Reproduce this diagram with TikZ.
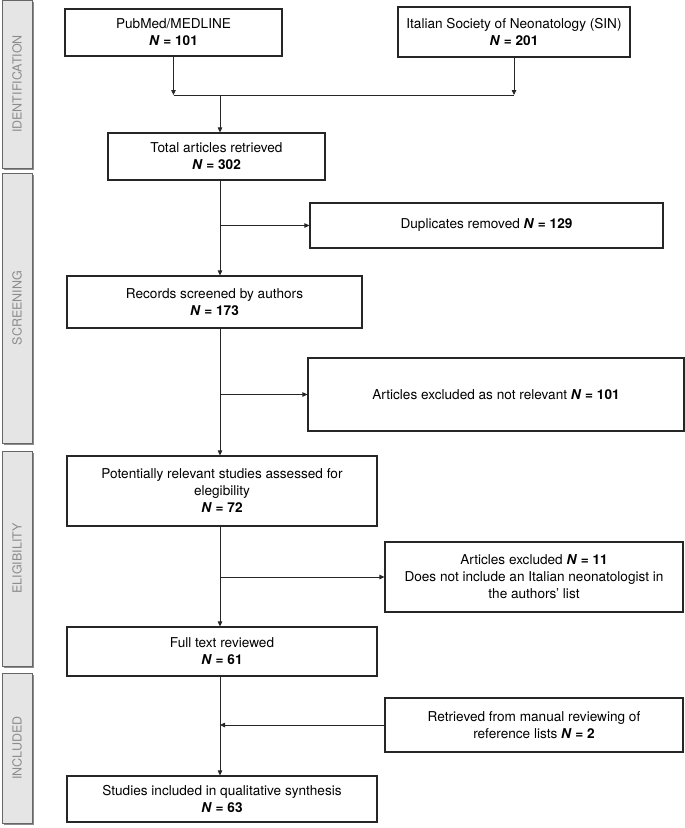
\documentclass[tikz,border=0pt]{standalone}
\usepackage{fontspec}
\setmainfont{TeX Gyre Heros}
\usepackage{tikz}
\usetikzlibrary{arrows.meta}
\usetikzlibrary{shadows}

\begin{document}
\begin{tikzpicture}[x=1pt,y=-1pt,
  flow box/.style={draw=black!85,line width=1.1pt,fill=white,align=center,inner sep=0pt,
    font=\fontsize{13.6}{17}\selectfont},
  phase bar/.style={draw=black!60,line width=1pt,fill=black!10,inner sep=0pt,minimum width=30pt,
    drop shadow={shadow xshift=1.6pt,shadow yshift=-1.6pt,fill=black!45,opacity=1},
    text=black!45,font=\fontsize{12.5}{14}\selectfont},
  flow arrow/.style={line width=0.8pt,black!85,-{Triangle[length=5pt,width=4.5pt]}},
  flow line/.style={line width=0.8pt,black!85}]
\newcommand{\Nis}[1]{\textbf{\textit{N} = #1}}
\useasboundingbox (0,0) rectangle (685,828);
% phases on the left
\node[phase bar,minimum height=168pt] (ident) at (17,84) {\rotatebox{90}{IDENTIFICATION}};
\node[phase bar,minimum height=270pt] (screen) at (17,308) {\rotatebox{90}{SCREENING}};
\node[phase bar,minimum height=215pt] (elig) at (17,558.5) {\rotatebox{90}{ELIGIBILITY}};
\node[phase bar,minimum height=150pt] (incl) at (17,748) {\rotatebox{90}{INCLUDED}};
% main column
\node[flow box,minimum width=217pt,minimum height=47pt] (pubmed) at (173.5,32.5) {PubMed/MEDLINE\\\Nis{101}};
\node[flow box,minimum width=232pt,minimum height=50pt] (sin) at (514,32) {Italian Society of Neonatology (SIN)\\\Nis{201}};
\node[flow box,minimum width=217pt,minimum height=47pt] (total) at (216.5,156.5) {Total articles retrieved\\\Nis{302}};
\node[flow box,minimum width=295pt,minimum height=52pt] (records) at (214.5,302) {Records screened by authors\\\Nis{173}};
\node[flow box,minimum width=310pt,minimum height=70pt] (potential) at (222,491) {Potentially relevant studies assessed for\\elegibility\\\Nis{72}};
\node[flow box,minimum width=310pt,minimum height=49pt] (fulltext) at (222,651.5) {Full text reviewed\\\Nis{61}};
\node[flow box,minimum width=310pt,minimum height=46pt] (studies) at (222,799) {Studies included in qualitative synthesis\\\Nis{63}};
% side boxes
\node[flow box,minimum width=353pt,minimum height=45pt] (dups) at (486.5,225.5) {Duplicates removed \Nis{129}};
\node[flow box,minimum width=376pt,minimum height=73pt] (notrel) at (496,394.5) {Articles excluded as not relevant \Nis{101}};
\node[flow box,minimum width=298pt,minimum height=70pt] (excl) at (534,577) {Articles excluded \Nis{11}\\Does not include an Italian neonatologist in\\the authors' list};
\node[flow box,minimum width=298pt,minimum height=54pt] (manual) at (534,725) {Retrieved from manual reviewing of\\reference lists \Nis{2}};
% junction of the two sources
\coordinate (jleft) at (173.5,95);
\coordinate (jright) at (514,95);
\coordinate (jmid) at (220,95);
\coordinate (spine) at (220,0); % main vertical line
\draw[flow arrow] (pubmed.south) -- (jleft);
\draw[flow arrow] (sin.south) -- (jright);
\draw[flow line] (jleft) -- (jright);
\draw[flow arrow] (jmid) -- (jmid |- total.north);
% down the spine
\draw[flow arrow] (spine |- total.south) -- (spine |- records.north);
\draw[flow arrow] (spine |- records.south) -- (spine |- potential.north);
\draw[flow arrow] (spine |- potential.south) -- (spine |- fulltext.north);
\draw[flow arrow] (spine |- fulltext.south) -- (spine |- studies.north);
% exclusions and additions
\draw[flow arrow] (spine |- dups.west) -- (dups.west);
\draw[flow arrow] (spine |- notrel.west) -- (notrel.west);
\draw[flow arrow] (spine |- excl.west) -- (excl.west);
\draw[flow arrow] (manual.west) -- (spine |- manual.west);
\end{tikzpicture}
\end{document}
